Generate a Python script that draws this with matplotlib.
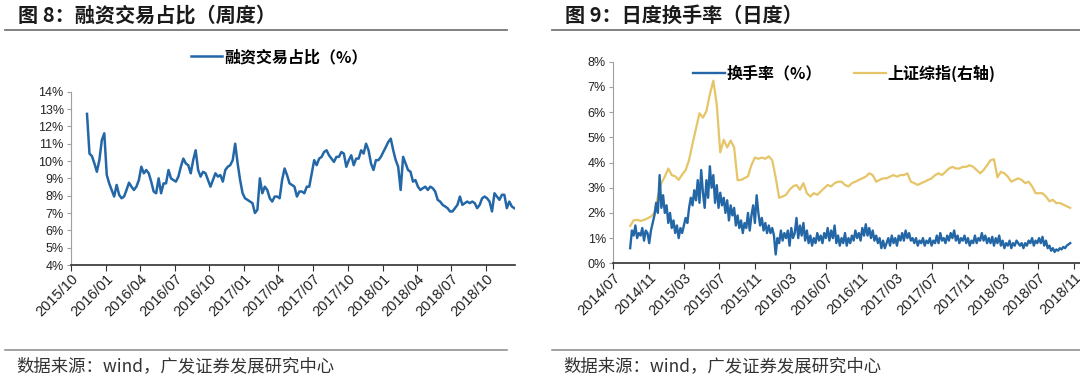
import matplotlib
matplotlib.use("Agg")
import matplotlib.pyplot as plt
import matplotlib.dates as mdates
from matplotlib.ticker import FuncFormatter
import pandas as pd

plt.rcParams['font.family'] = ['Liberation Sans', 'Noto Sans CJK SC', 'DejaVu Sans']

# ---------------- 数据 ----------------
# 图8：融资交易占比（周度，%）
margin_start, margin_end = '2015-11-13', '2018-12-14'
margin_ratio = [
    12.72, 10.43, 10.28, 9.86, 9.38, 10.05, 11.2, 11.6, 9.2, 8.7,
    8.33, 7.95, 8.62, 8.05, 7.85, 7.95, 8.33, 8.75, 8.52, 8.33,
    8.52, 8.9, 9.67, 9.29, 9.48, 9.29, 8.81, 8.24, 8.14, 9.0,
    8.14, 8.71, 8.71, 9.48, 9.0, 8.9, 8.81, 9.1, 9.67, 10.14,
    9.86, 9.76, 9.29, 10.05, 10.62, 9.48, 9.1, 9.38, 9.29, 8.9,
    8.52, 8.9, 9.29, 9.1, 9.19, 8.81, 9.48, 9.67, 9.76, 10.05,
    11.0, 9.86, 8.9, 8.14, 7.85, 7.76, 7.66, 7.57, 7.0, 7.19,
    9.0, 8.14, 8.52, 8.33, 7.85, 7.66, 7.95, 7.95, 7.85, 8.9,
    9.57, 9.19, 8.71, 8.62, 8.52, 7.95, 8.24, 8.24, 8.14, 8.52,
    8.52, 9.29, 10.05, 9.76, 10.14, 10.24, 10.52, 10.62, 10.33, 10.14,
    9.95, 10.24, 10.24, 10.52, 10.43, 9.67, 10.05, 10.33, 9.76, 10.14,
    10.14, 10.62, 10.43, 11.0, 10.62, 9.86, 9.48, 10.05, 10.05, 10.24,
    10.52, 10.81, 11.1, 11.29, 10.62, 10.05, 9.67, 8.33, 10.24, 9.86,
    9.48, 9.38, 8.81, 8.9, 8.52, 8.33, 8.43, 8.52, 8.33, 8.52,
    8.43, 8.24, 7.76, 7.66, 7.47, 7.38, 7.28, 7.09, 7.09, 7.28,
    7.47, 7.95, 7.47, 7.57, 7.66, 7.57, 7.66, 7.57, 7.28, 7.47,
    7.85, 7.95, 7.85, 7.66, 7.09, 8.14, 7.95, 7.76, 8.05, 8.05,
    7.28, 7.66, 7.38, 7.28,
]

# 图9：日度换手率（%）与上证综指
turn_start, turn_end = '2014-08-29', '2018-10-19'
turnover = [
    0.6, 1.3, 1.1, 1.5, 1.0, 1.2, 1.1, 1.4, 0.9, 1.3,
    1.2, 0.8, 1.3, 1.6, 1.9, 2.4, 2.0, 3.5, 2.2, 2.7,
    2.0, 2.3, 1.6, 2.0, 1.4, 1.7, 1.2, 1.5, 1.0, 1.4,
    1.2, 1.5, 1.8, 1.6, 2.2, 2.6, 2.3, 2.9, 2.5, 3.3,
    2.4, 3.7, 2.8, 2.2, 3.3, 2.6, 3.85, 3.0, 3.5, 2.4,
    3.1, 2.2, 2.8, 2.3, 2.6, 2.0, 2.5, 1.7, 2.3, 1.9,
    2.2, 1.5, 1.9, 1.4, 1.7, 1.2, 1.6, 1.4, 2.0, 1.3,
    1.9, 2.3, 1.6, 2.7, 2.0, 1.5, 1.8, 1.3, 1.6, 1.2,
    1.5, 1.2, 1.4, 1.1, 0.35, 1.0, 0.8, 1.3, 0.9, 1.2,
    1.0, 1.3, 0.7, 1.4, 1.0, 1.2, 1.8, 1.0, 1.5, 1.1,
    1.6, 0.9, 1.3, 0.8, 1.1, 0.7, 1.0, 0.8, 1.2, 0.9,
    1.1, 0.8, 1.2, 1.0, 1.4, 0.9, 1.3, 1.0, 1.5, 0.8,
    1.1, 0.7, 1.0, 0.8, 1.2, 0.7, 1.0, 0.8, 1.1, 0.9,
    1.3, 1.0, 1.2, 0.9, 1.4, 1.1, 1.55, 1.1, 1.4, 1.0,
    1.3, 0.9, 1.1, 0.8, 1.0, 0.6, 0.9, 0.6, 0.8, 1.0,
    0.7, 1.1, 0.8, 1.0, 0.7, 1.1, 0.9, 1.2, 0.9, 1.3,
    1.0, 1.2, 0.9, 1.0, 0.8, 1.0, 0.7, 0.9, 0.8, 1.0,
    0.7, 0.9, 0.8, 1.0, 0.7, 0.9, 0.8, 1.1, 0.8, 1.2,
    0.9, 1.0, 0.8, 1.1, 0.9, 1.2, 1.0, 1.3, 0.9, 1.1,
    0.8, 1.0, 0.9, 1.1, 0.8, 1.0, 0.7, 0.9, 0.8, 1.1,
    0.8, 1.0, 0.9, 1.2, 0.9, 1.1, 0.8, 1.0, 0.8, 1.05,
    0.7, 1.0, 0.8, 1.1, 0.7, 0.9, 0.6, 0.8, 0.7, 0.9,
    0.6, 0.8, 0.7, 0.9, 0.8, 0.7, 0.8, 0.6, 0.8, 0.7,
    0.9, 0.8, 1.0, 0.7, 0.9, 0.8, 1.0, 0.8, 1.05, 0.7,
    0.9, 0.6, 0.7, 0.5, 0.6, 0.45, 0.55, 0.5, 0.6, 0.55,
    0.65, 0.6, 0.7, 0.75, 0.8,
]
sh_index = [
    2195, 2310, 2320, 2297, 2318, 2350, 2385, 2460, 2792, 3062,
    3194, 3358, 3225, 3200, 3128, 3235, 3327, 3530, 3862, 4170,
    4475, 4388, 4520, 4860, 5135, 4650, 3685, 3940, 3785, 3924,
    3785, 3120, 3128, 3164, 3200, 3430, 3580, 3555, 3580, 3555,
    3605, 3526, 3175, 2765, 2792, 2827, 2929, 2996, 3026, 2929,
    3062, 2858, 2792, 2858, 2827, 2894, 2960, 3026, 2996, 3062,
    3092, 3092, 3026, 2996, 3062, 3092, 3128, 3159, 3194, 3261,
    3225, 3092, 3128, 3159, 3159, 3194, 3225, 3194, 3225, 3225,
    3261, 3092, 3062, 3026, 3062, 3092, 3128, 3159, 3225, 3261,
    3225, 3291, 3358, 3393, 3358, 3358, 3393, 3393, 3424, 3393,
    3327, 3261, 3327, 3424, 3526, 3545, 3180, 3291, 3261, 3194,
    3092, 3128, 3159, 3128, 3062, 3092, 2996, 2858, 2858, 2858,
    2792, 2695, 2725, 2659, 2659, 2628, 2593, 2562,
]

label_left = '融资交易占比（%）'
label_turn = '换手率（%）'
label_index = '上证综指(右轴)'

left_ticks = pd.date_range('2015-10-01', '2018-10-01', freq='3MS')
right_ticks = pd.date_range('2014-07-01', '2018-11-01', freq='4MS')

# ---------------- 绘图 ----------------
W, H = 1080, 382
fig = plt.figure(figsize=(W / 100, H / 100), dpi=100)

def fx(px):
    return px / W

def fy(py):
    return 1 - py / H

blue = '#2367a6'
yellow = '#e5c567'
cjk = ['Noto Sans CJK SC', 'Liberation Sans']
pct = FuncFormatter(lambda v, p: '%d%%' % round(v))

def style_axes(ax):
    for s in ['top', 'right']:
        ax.spines[s].set_visible(False)
    ax.spines['left'].set_color('#a0a0a0')
    ax.spines['bottom'].set_color('#303030')
    ax.spines['bottom'].set_linewidth(1.2)
    ax.tick_params(axis='y', direction='out', length=3, color='#a0a0a0',
                   labelsize=9, labelcolor='#222222', pad=2)
    ax.tick_params(axis='x', direction='out', length=4, color='#303030',
                   labelsize=10.5, labelcolor='#222222', pad=1)
    ax.yaxis.set_major_formatter(pct)
    for lab in ax.get_xticklabels():
        lab.set_rotation(45)
        lab.set_ha('right')
        lab.set_rotation_mode('anchor')

# 图8
ax1 = fig.add_axes([fx(70.7), fy(265), fx(515 - 70.7), fy(91.7) - fy(265)])
d1 = pd.date_range(margin_start, margin_end, periods=len(margin_ratio))
ax1.plot(d1, margin_ratio, color=blue, lw=1.8, label=label_left)
ax1.set_ylim(4, 14)
ax1.set_yticks(range(4, 15))
ax1.set_xlim(pd.Timestamp('2015-10-01'), pd.Timestamp('2018-12-16'))
ax1.set_xticks(left_ticks)
ax1.xaxis.set_major_formatter(mdates.DateFormatter('%Y/%m'))
style_axes(ax1)
ax1.legend(loc='center', bbox_to_anchor=(fx(279), fy(57)), bbox_transform=fig.transFigure,
           frameon=False, handlelength=2.0, handletextpad=0.1,
           prop={'family': cjk, 'weight': 'bold', 'size': 11.5})

# 图9
ax2 = fig.add_axes([fx(613), fy(263.3), fx(1090 - 613), fy(61.7) - fy(263.3)])
d2 = pd.date_range(turn_start, turn_end, periods=len(turnover))
d3 = pd.date_range(turn_start, turn_end, periods=len(sh_index))
ln1 = ax2.plot(d2, turnover, color=blue, lw=1.7, label=label_turn, zorder=3)
ax2.set_ylim(0, 8)
ax2.set_yticks(range(0, 9))
ax2.set_xlim(pd.Timestamp('2014-07-01'), pd.Timestamp('2018-12-26'))
ax2.set_xticks(right_ticks)
ax2.xaxis.set_major_formatter(mdates.DateFormatter('%Y/%m'))
style_axes(ax2)

ax3 = ax2.twinx()
ln2 = ax3.plot(d3, sh_index, color=yellow, lw=1.6, label=label_index)
ax3.set_ylim(1440, 5520)
ax3.set_yticks([])
for s in ax3.spines.values():
    s.set_visible(False)
ax2.set_zorder(ax3.get_zorder() + 1)
ax2.patch.set_visible(False)
ax2.legend(ln1 + ln2, [label_turn, label_index], loc='center', ncol=2,
           bbox_to_anchor=(fx(844), fy(73)), bbox_transform=fig.transFigure,
           frameon=False, handlelength=2.0, handletextpad=0.1, columnspacing=2.0,
           prop={'family': cjk, 'weight': 'bold', 'size': 11.5})

# 标题、分隔线与来源
fig.text(fx(18), fy(15), '图 8：融资交易占比（周度）', family=cjk, weight='bold',
         fontsize=14.5, color='#1a1a1a', va='center')
fig.text(fx(565), fy(15), '图 9：日度换手率（日度）', family=cjk, weight='bold',
         fontsize=14.5, color='#1a1a1a', va='center')
for x0, x1 in [(5, 507), (552, 1080)]:
    fig.add_artist(plt.Line2D([fx(x0), fx(x1)], [fy(30), fy(30)], color='#777777', lw=1.3))
    fig.add_artist(plt.Line2D([fx(x0), fx(x1)], [fy(350), fy(350)], color='#888888', lw=1.1))
fig.text(fx(16), fy(366), '数据来源：wind，广发证券发展研究中心', family=cjk,
         fontsize=12.5, color='#333333', va='center')
fig.text(fx(563), fy(366), '数据来源：wind，广发证券发展研究中心', family=cjk,
         fontsize=12.5, color='#333333', va='center')

fig.savefig('out.png', dpi=100)
